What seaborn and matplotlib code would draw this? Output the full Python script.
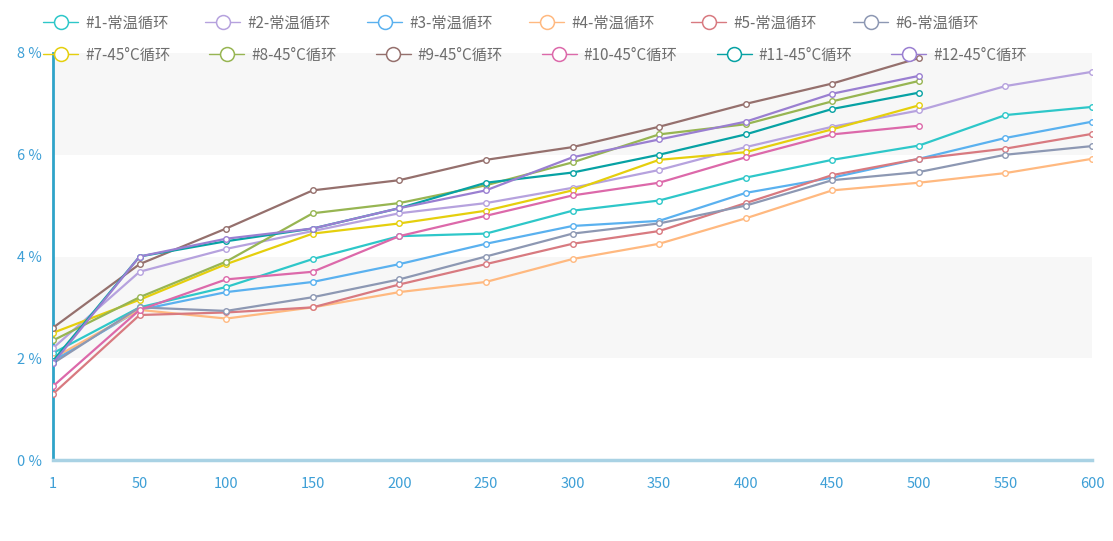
import matplotlib
matplotlib.use("Agg")
import matplotlib.pyplot as plt
from matplotlib.lines import Line2D
import seaborn as sns
import pandas as pd

cycles = ["1", "50", "100", "150", "200", "250", "300", "350", "400", "450", "500", "550", "600"]
y_ticks = [0, 2, 4, 6, 8]
y_tick_labels = ["0 %", "2 %", "4 %", "6 %", "8 %"]

series_names = [
    "#1-常温循环", "#2-常温循环", "#3-常温循环", "#4-常温循环", "#5-常温循环", "#6-常温循环",
    "#7-45°C循环", "#8-45°C循环", "#9-45°C循环", "#10-45°C循环", "#11-45°C循环", "#12-45°C循环",
]

s1 = [2.1, 3.0, 3.4, 3.95, 4.4, 4.45, 4.9, 5.1, 5.55, 5.9, 6.18, 6.78, 6.94]
s2 = [2.2, 3.7, 4.15, 4.5, 4.85, 5.05, 5.35, 5.7, 6.15, 6.55, 6.87, 7.35, 7.63]
s3 = [1.95, 2.95, 3.3, 3.5, 3.85, 4.25, 4.6, 4.7, 5.25, 5.55, 5.92, 6.33, 6.65]
s4 = [2.0, 2.95, 2.78, 3.0, 3.3, 3.5, 3.95, 4.25, 4.75, 5.3, 5.45, 5.64, 5.92]
s5 = [1.3, 2.85, 2.9, 3.0, 3.45, 3.85, 4.25, 4.5, 5.05, 5.6, 5.92, 6.12, 6.41]
s6 = [1.9, 3.0, 2.93, 3.2, 3.55, 4.0, 4.45, 4.65, 5.0, 5.5, 5.66, 6.0, 6.17]
s7 = [2.5, 3.15, 3.85, 4.45, 4.65, 4.9, 5.3, 5.9, 6.05, 6.5, 6.97]
s8 = [2.35, 3.2, 3.9, 4.85, 5.05, 5.4, 5.85, 6.4, 6.6, 7.05, 7.45]
s9 = [2.6, 3.85, 4.55, 5.3, 5.5, 5.9, 6.15, 6.55, 7.0, 7.4, 7.9]
s10 = [1.45, 2.95, 3.55, 3.7, 4.4, 4.8, 5.2, 5.45, 5.95, 6.4, 6.57]
s11 = [1.95, 4.0, 4.3, 4.55, 4.95, 5.45, 5.65, 6.0, 6.4, 6.9, 7.22]
s12 = [1.9, 4.0, 4.35, 4.55, 4.95, 5.3, 5.95, 6.3, 6.65, 7.2, 7.55]
all_series = [s1, s2, s3, s4, s5, s6, s7, s8, s9, s10, s11, s12]

# echarts "macarons" palette
colours = [
    "#2ec7c9", "#b6a2de", "#5ab1ef", "#ffb980", "#d87a80", "#8d98b3",
    "#e5cf0d", "#97b552", "#95706d", "#dc69aa", "#07a2a4", "#9a7fd1",
]

rows = []
for name, vals in zip(series_names, all_series):
    for i, v in enumerate(vals):
        rows.append({"series": name, "pos": i, "value": v})
df = pd.DataFrame(rows)

sns.set_style("white")
plt.rcParams["font.family"] = ["Noto Sans CJK SC", "DejaVu Sans"]

fig = plt.figure(figsize=(11.13, 5.41), dpi=100)
ax = fig.add_axes([53 / 1113, 81 / 541, 1039 / 1113, 407 / 541])

# alternating split areas
for lo, hi, c in [(0, 2, "#ffffff"), (2, 4, "#f7f7f7"), (4, 6, "#ffffff"), (6, 8, "#f7f7f7")]:
    ax.axhspan(lo, hi, color=c, zorder=0, lw=0)

for name, col in zip(series_names, colours):
    sub = df[df["series"] == name]
    sns.lineplot(
        data=sub, x="pos", y="value", ax=ax, color=col, linewidth=1.6,
        marker="o", markersize=4, markerfacecolor="white",
        markeredgecolor=col, markeredgewidth=1, zorder=3,
    )

ax.set_xlim(0, len(cycles) - 1)
ax.set_ylim(0, 8)
ax.set_xticks(range(len(cycles)))
ax.set_xticklabels(cycles)
ax.set_yticks(y_ticks)
ax.set_yticklabels(y_tick_labels)
ax.set_xlabel("")
ax.set_ylabel("")
ax.tick_params(axis="both", length=0, labelsize=10.5, labelcolor="#3d9fd6")
ax.tick_params(axis="x", pad=12)
ax.tick_params(axis="y", pad=8)
for side in ["top", "right"]:
    ax.spines[side].set_visible(False)
ax.spines["left"].set_color("#2fa3c9")
ax.spines["left"].set_linewidth(2)
ax.spines["bottom"].set_color("#a9d2e4")
ax.spines["bottom"].set_linewidth(2.5)

handles = [
    Line2D([0], [0], color=c, lw=1.0, marker="o", markersize=10,
           markerfacecolor="white", markeredgecolor=c, markeredgewidth=1.1)
    for c in colours
]

# two legend rows, laid out like the echarts legend
leg1 = fig.legend(
    handles[:6], series_names[:6], ncol=6, loc="center left",
    bbox_to_anchor=(43 / 1113, 1 - 23 / 541), frameon=False, fontsize=11,
    handlelength=2.3, handletextpad=0.45, columnspacing=2.4,
    borderpad=0, borderaxespad=0,
)
leg2 = fig.legend(
    handles[6:], series_names[6:], ncol=6, loc="center left",
    bbox_to_anchor=(43 / 1113, 1 - 55 / 541), frameon=False, fontsize=11,
    handlelength=2.3, handletextpad=0.45, columnspacing=2.55,
    borderpad=0, borderaxespad=0,
)
for leg in (leg1, leg2):
    for t in leg.get_texts():
        t.set_color("#6e6e6e")

fig.savefig("out.png", dpi=100)
